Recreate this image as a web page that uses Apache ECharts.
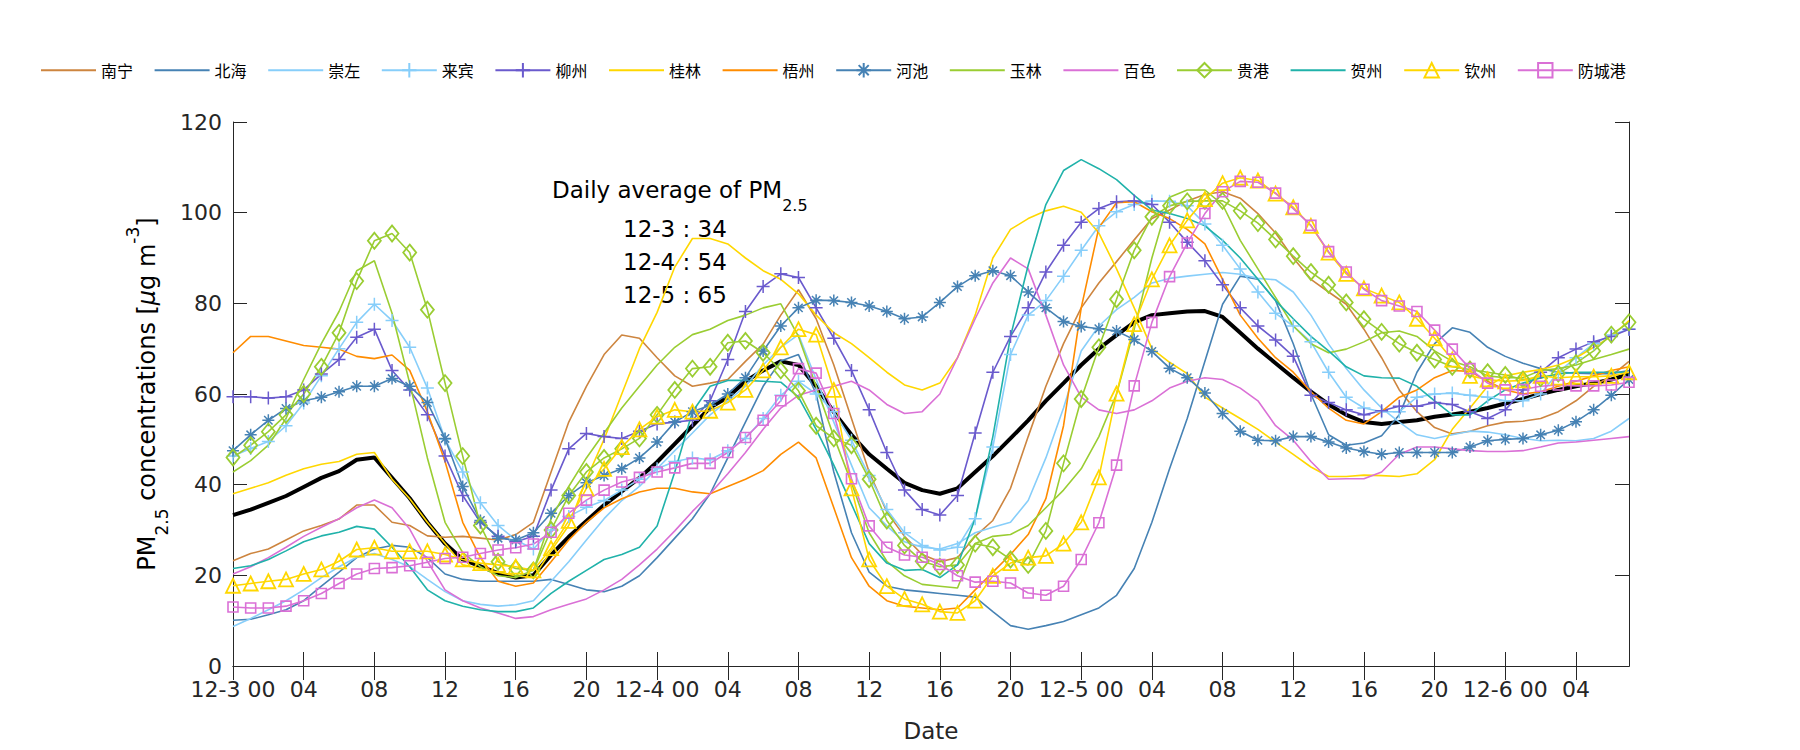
<!DOCTYPE html>
<html>
<head>
<meta charset="utf-8">
<script src="https://cdn.jsdelivr.net/npm/echarts@6/dist/echarts.min.js"></script>
<style>html,body{margin:0;padding:0;background:#fff}#c{width:1800px;height:750px}</style>
</head>
<body>
<div id="c"></div>
<script>
// ---- data: hourly PM2.5, 12-3 00:00 to 12-6 07:00 ----
const days = ['12-3', '12-4', '12-5', '12-6'];
const yTicks = [0, 20, 40, 60, 80, 100, 120];

const avg = [33.3,34.5,36,37.5,39.5,41.5,43,45.5,46,41.5,37,31.7,27,23.5,
  22,20.5,19.5,20,24.5,28.5,32,35.5,38.5,41.5,45,49,53,
  57,59.3,62.8,65.2,67.2,66.4,61.7,56,51,46.7,43.5,40.4,38.8,
  38,39.2,42.8,46.3,50.2,54.2,58.5,62.4,66.4,70,73,75.8,77.4,
  77.8,78.2,78.3,77,73.5,70,66.8,63.6,60.5,57.7,55.4,53.8,53.4,53.8,
  54.2,55,55.5,56.1,56.9,57.9,58.9,60,60.9,61.7,62.4,63.2,64.4];

const nanning = [23.2,24.8,25.8,27.8,29.8,31,32.4,35.5,35.5,31.7,31,28.7,28.4,28.6,
  28.2,27.8,29,31.7,42.8,53.8,61.7,68.7,73,72.3,68,64,61.7,
  62.4,63.2,67.2,71,77.4,83,76.6,66.4,54.6,42.8,34,28.6,24.6,
  23,23.9,28.6,32.1,39.2,50.6,61.7,71.1,79,84.5,89.2,94,98.7,
  100.6,102.6,104,104.6,103.2,99.8,95.5,90,85.3,82.5,79.8,74.3,68,60.9,
  56.1,52.6,51.2,51.8,53,53.8,54,54.6,56.1,58.5,61.7,64,67.2];

const beihai = [10.1,10.3,11.3,12.4,14.4,17.6,20.7,23.9,25.8,26.6,26.2,23.9,20.3,19.1,
  18.7,18.7,18.7,18.7,19.1,18,16.8,16.4,17.6,19.9,23.9,28.2,32.5,
  38,45.9,53.8,61.7,67.3,68.7,60,42.8,29.4,20.7,17.6,16.8,16.4,
  16,15.6,15.2,12,8.9,8.1,8.9,9.8,11.3,12.8,15.6,21.5,31.7,
  43.5,54.6,67.2,79.8,86,85.3,80.6,71.1,60,51,48.7,49.2,50.8,55.4,
  64.8,71.1,74.6,73.6,70.3,68.3,66.8,65.6,64.8,64.6,64.5,64.5,65.2];

const chongzuo = [8.7,10.5,12.4,14.4,16.8,19.5,21.9,24,24.8,23.5,21.9,19.1,16.4,14.4,
  13.6,13.2,13.5,14.4,18.7,23,27.8,32.5,36.5,39.6,43.5,47.5,51.4,
  55.4,58.5,61.7,66.4,70.3,73.1,63.2,53.8,44.3,34.9,30.9,27.4,26.2,
  25.8,27,29.4,30.6,31.7,36.5,45.9,56.9,69.5,75,78.6,81.3,84.5,
  85.5,86,86.4,86.8,86.4,85.5,85.2,82.5,77.4,71,65.6,60.9,56.9,53.8,
  51,50.2,51,51.8,51.6,51,50.2,49.7,49.8,49.7,50.2,51.8,54.6];

const laibin = [46.3,48,49.5,53,58,64,70,75.8,79.8,76.2,70.3,61.3,50,42.8,
  36,31,27.8,25.8,30,33,35,36.5,38.8,41.2,43.5,45.1,45.9,
  45.5,47.5,50.2,54.6,59.7,62.8,60,56.1,49.8,42,34.5,29.4,26.6,
  25.6,26.2,32.5,48.3,68.7,77.4,80.6,86,91.7,97.1,100.2,101.8,102.6,
  102.5,101.5,97.5,92.8,87.6,82.5,77.8,75,71.5,64.8,59.3,56.9,56.1,56.1,
  59.3,60,60.2,59.7,59.3,58.5,58.5,60,64.8,68,71.1,73,74.3];

const liuzhou = [59.4,59.4,59.1,59.4,60.9,64.4,67.6,72.5,74.3,65.2,60.9,55.4,46.3,37.6,
  31.7,28.6,27.4,28.6,38.8,47.9,51.3,50.6,50.2,51.8,53.4,53.8,54.2,
  58.5,67.6,78.2,83.7,86.5,85.7,79,72.3,65.2,56.5,47.1,38.8,34.5,
  33.3,37.6,51.4,64.8,72.7,79,86.9,92.8,97.9,100.9,102.4,102.6,101.8,
  97.9,93.5,89.4,84.1,79,75,71.9,68.3,59.7,58.1,56.5,55.4,56.3,57.3,
  57.3,58.1,57.7,56.1,54.6,56.5,60.9,64.8,68,69.9,71.5,72.7,74.3];

const guilin = [38,39.2,40.4,42.1,43.5,44.5,45.1,46.7,47.1,41.2,36.9,31.7,27,22.3,
  21.5,20.7,19.9,19.5,25.4,31,41.2,50,60,70,78,88,94.3,
  94.3,93.1,90,87.2,85.3,82.1,77.4,73.5,71.1,68,64.8,62,60.9,
  62.4,68,77.4,90,96.3,98.7,100.4,101.4,100.1,95.5,87.6,79,70,
  67,64.5,59.3,56.9,54.6,52.2,49.4,46.7,43.9,41.8,41.8,42.1,42,41.8,
  42.4,45.5,52.2,56.9,61.7,64,64.8,65.4,66.4,68,70.3,72.7,76.2];

const wuzhou = [69.1,72.7,72.7,71.7,70.7,70.3,69.9,68.3,67.8,68.6,65.2,56.1,45.1,31.7,
  23.9,18.7,17.6,18.3,23,27.8,31.7,34.9,36.9,38.4,39.2,39.2,38.4,
  38,39.6,41.2,43.1,46.7,49.4,45.9,34.9,23.9,17.6,14.4,13.2,12.8,
  12.4,12.8,16.8,20.7,24.6,29,36.9,53,79,96.7,102.2,102.4,100.2,
  98.7,96.3,93.1,85.3,77.4,72.3,68,64.8,60.5,56.9,54.2,53.4,56.1,59.3,
  60.9,63.6,65.2,65,62.8,60.9,60,60.5,61.7,62.8,64,65.2,66];

const hechi = [47.5,51,54.2,56.8,58.5,59.3,60.5,61.7,61.7,63.4,61.7,58.1,50.2,39.6,
  32.1,28.2,27.8,29.4,33.7,37.6,40.4,42,43.5,45.9,49.4,53.8,56.1,
  57.5,60,63.6,69.5,75,79,80.7,80.6,80.2,79.4,78.2,76.6,77,
  80.2,83.7,86.1,87.2,86.1,82.5,79,76,74.9,74.4,73.9,72,69.4,
  65.7,63.6,60.2,55.7,51.8,49.8,49.7,50.6,50.6,49.4,48.1,47.3,46.7,47.1,
  47.1,47.1,47.1,48.3,49.7,50,50.2,51,52,53.9,56.5,59.7,63.2];

const yulin = [42.8,45.3,48.7,54.6,63.2,71.1,78.2,87.2,89.4,77.8,62.4,45.9,31.7,25,
  21.9,19.9,19.5,21.1,32.5,39.6,45.9,51.4,56.9,61.7,66.4,70.3,73.1,
  74.3,76.2,77.4,79,79.9,72.7,61.7,50.6,40.4,29.4,23.1,19.9,18,
  17.6,17.2,27,28.6,29,31,34.9,38.8,43.5,50.6,60,74.3,90,
  103.4,105,105,101.8,93.9,87.6,81.3,75,71.1,69.1,69.9,71.5,73.5,73.9,
  72.7,69.5,67.2,66,64,63.6,63.6,65.2,65.6,66.4,67.6,68.7,69.9];

const baise = [20.3,21.9,23.9,26.2,28.6,30.6,32.5,34.9,36.6,34.9,30.2,23.1,16.8,14.4,
  12.8,11.7,10.5,10.9,12.4,13.6,14.8,16.8,19.1,22.3,25.8,29.8,34.1,
  38,42.4,47.1,52.2,56.9,59.7,60.9,61.7,62.8,60.9,57.7,55.7,56.1,
  60,68,76.6,84.5,90,87.6,77.4,66.4,59.3,56.5,55.7,56.5,58.5,
  61.3,62.8,63.6,63.2,61.3,58.5,53,49.8,45.1,41.2,41.3,41.3,42.8,46.7,
  48.3,48.3,47.9,47.5,47.3,47.3,47.5,48.3,49.2,49.4,49.8,50.2,50.6];

const guigang = [46,48.7,51.7,55.4,60,66,73.5,84.9,93.8,95.4,91.2,78.6,62.4,46.3,
  31,23,21.5,21.1,30,37.6,42.8,45.9,47.9,50.2,55.4,60.9,65.6,
  66,71.3,71.7,69.1,65.2,60.7,53,50.2,48.7,41.2,32.1,26.6,23.1,
  21.9,22.3,27,26.2,23.5,22.3,29.8,44.7,58.9,70.3,80.9,91.7,99.1,
  101.5,102.5,102.6,102.6,100.4,97.7,94.1,90.4,86.9,84.1,80.2,76.5,73.7,71.1,
  69.1,67.6,66,65.4,64.8,64.2,63.2,63.5,64.5,66.8,69.5,73.1,75.8];

const hezhou = [21.5,22.1,23.5,25.4,27.4,28.7,29.5,30.8,30.2,26.2,21.9,16.8,14.4,13.2,
  12.4,12,12,12.8,16,18.7,21.1,23.5,24.6,26.2,30.9,42.8,56.1,
  61.7,63,63,62.8,62.6,59.3,52.2,44.3,35.7,27,22.7,21.1,21.3,
  19.5,22.3,32.5,50.6,72.7,88.4,101.8,109.3,111.7,109.7,107.3,103.8,100.6,
  99.8,98.7,97.1,93.9,90,85.3,80.6,76.6,72.7,69.5,66,64,63.6,63.5,
  61.7,58.5,55.4,55.4,58.5,60.9,62.4,63.6,64.4,64.8,64.8,64.8,64.8];

const qinzhou = [17.7,18.2,18.7,19.1,20.3,21.3,23.1,25.7,26.1,25.3,25.3,25.3,24.6,23.5,
  22.7,22.3,21.9,21.1,26,32,39.2,43.5,48.3,52.2,55,56.5,56.1,
  56.3,58.1,60.9,65.2,70.3,74.3,73.1,60.9,39.2,23.5,17.6,14.8,13.6,
  12,11.7,14.4,19.9,22.7,23.9,24.3,27,31.7,41.6,60.1,75.4,85.3,
  92.8,98.3,103,106.5,107.7,107.1,104.2,101.2,97.1,91.2,86.5,83.3,81.7,80.2,
  76.6,72.3,67.6,64,63.2,62.8,63,64,63.6,63.8,63.8,64,64.8];

const fangchenggang = [13,12.8,12.8,13.2,14.4,16,18.2,20.3,21.5,21.7,22.1,22.9,23.7,24,
  24.8,25.6,26.1,26.9,29.5,33.7,36.6,38.8,40.6,41.6,42.8,43.7,44.7,
  44.7,47.1,50.4,54.2,58.5,65.6,64.6,55.7,41.3,30.9,26.2,24.5,24,
  22.4,19.9,18.5,18.7,18.3,16.1,15.6,17.6,23.5,31.6,44.3,61.8,75.8,
  85.9,93.3,99.8,104.6,106.9,106.7,104.3,100.9,97.2,91.4,86.9,83.1,80.6,79.4,
  78.2,74.1,69.9,65.6,62.4,60.9,61,61.7,62,61.8,61.8,62,62.6];

const dailyAvg = [['12-3', 34], ['12-4', 54], ['12-5', 65]];

// ---- hour categories ----
const cats = [];
for (let i = 0; i < avg.length; i++) {
  const d = days[Math.floor(i / 24)];
  const h = i % 24;
  cats.push(d + ' ' + (h < 10 ? '0' + h : '' + h));
}
function labelFmt(v) {
  const parts = v.split(' ');
  return parts[1] === '00' ? v : parts[1];
}

const FONT = 'DejaVu Sans';
const AX = '#262626';
const CLEAR = 'rgba(255,255,255,0)';

const plus = 'path://M5,0L5,10M0,5L10,5';
const star = 'path://M5,0L5,10M0,5L10,5M1.5,1.5L8.5,8.5M1.5,8.5L8.5,1.5';

const defs = [
  ['南宁', nanning, '#CD853F', null],
  ['北海', beihai, '#4682B4', null],
  ['崇左', chongzuo, '#87CEFA', null],
  ['来宾', laibin, '#87CEFA', {symbol: plus, size: 13, bw: 1.5}],
  ['柳州', liuzhou, '#6A5ACD', {symbol: plus, size: 13, bw: 1.5}],
  ['桂林', guilin, '#FFD700', null],
  ['梧州', wuzhou, '#FF8C00', null],
  ['河池', hechi, '#4682B4', {symbol: star, size: 12, bw: 1.5}],
  ['玉林', yulin, '#9ACD32', null],
  ['百色', baise, '#DA70D6', null],
  ['贵港', guigang, '#9ACD32', {symbol: 'diamond', size: [13, 16], bw: 1.8}],
  ['贺州', hezhou, '#20B2AA', null],
  ['钦州', qinzhou, '#FFD700', {symbol: 'triangle', size: 14, bw: 1.8}],
  ['防城港', fangchenggang, '#DA70D6', {symbol: 'rect', size: 10, bw: 1.6}]
];

const series = [{
  name: '平均', type: 'line', data: avg, symbol: 'none',
  lineStyle: {color: '#000', width: 4}, itemStyle: {color: '#000'}, z: 1
}];
defs.forEach(function (d) {
  const s = {
    name: d[0], type: 'line', data: d[1], z: 2,
    lineStyle: {color: d[2], width: 1.6}
  };
  if (d[3]) {
    s.symbol = d[3].symbol;
    s.symbolSize = d[3].size;
    s.showSymbol = true;
    s.showAllSymbol = true;
    s.itemStyle = {color: CLEAR, borderColor: d[2], borderWidth: d[3].bw};
  } else {
    s.symbol = 'none';
    s.itemStyle = {color: CLEAR, borderWidth: 0, opacity: 0};
  }
  series.push(s);
});

const rich = {
  a: {fontSize: 24, lineHeight: 46, fontFamily: FONT, color: AX},
  i: {fontSize: 24, lineHeight: 46, fontFamily: FONT, fontStyle: 'italic', color: AX},
  s: {fontSize: 17, lineHeight: 18, verticalAlign: 'bottom', fontFamily: FONT, color: AX},
  p: {fontSize: 17, lineHeight: 18, verticalAlign: 'top', fontFamily: FONT, color: AX}
};
const richA = {
  a: {fontSize: 23, lineHeight: 46, fontFamily: FONT, color: '#000'},
  s: {fontSize: 16, lineHeight: 18, verticalAlign: 'bottom', fontFamily: FONT, color: '#000'}
};

const graphics = [
  {type: 'text', x: 147, y: 394, rotation: Math.PI / 2, silent: true,
    style: {text: '{a|PM}{s|2.5}{a| concentrations [}{i|μ}{a|g m}{p|-3}{a|]}', rich: rich,
      align: 'center', verticalAlign: 'middle'}},
  {type: 'text', x: 552, y: 190, silent: true,
    style: {text: '{a|Daily average of PM}{s|2.5}', rich: richA, align: 'left', verticalAlign: 'middle'}}
];
dailyAvg.forEach(function (r, k) {
  graphics.push({type: 'text', x: 623, y: 229 + k * 33, silent: true,
    style: {text: r[0] + ' : ' + r[1], fontSize: 23, fontFamily: FONT, fill: '#000',
      align: 'left', verticalAlign: 'middle'}});
});

const chart = echarts.init(document.getElementById('c'), null, {renderer: 'svg'});
chart.setOption({
  animation: false,
  backgroundColor: '#fff',
  grid: {left: 233, right: 171, top: 122, bottom: 84, containLabel: false},
  legend: {
    data: defs.map(function (d) {
      return d[3] ? {name: d[0]} : {name: d[0], itemStyle: {opacity: 0}};
    }),
    left: 35, top: 57, itemWidth: 55, itemHeight: 18, itemGap: 20.6,
    textStyle: {fontSize: 16, fontFamily: 'Noto Sans CJK SC', color: '#000'}
  },
  xAxis: [{
    type: 'category', data: cats, boundaryGap: false,
    name: 'Date', nameLocation: 'middle', nameGap: 53,
    nameTextStyle: {fontSize: 23, fontFamily: FONT, color: AX},
    axisLine: {show: true, lineStyle: {color: AX, width: 1}},
    axisTick: {show: true, inside: true, length: 14, interval: 3, lineStyle: {color: AX}},
    axisLabel: {interval: 3, margin: 12, fontSize: 22, fontFamily: FONT, color: AX, formatter: labelFmt},
    splitLine: {show: false}
  }, {
    type: 'category', data: cats, boundaryGap: false, position: 'top',
    axisLine: {show: true, lineStyle: {color: AX, width: 1}},
    axisTick: {show: true, inside: true, length: 14, interval: 3, lineStyle: {color: AX}},
    axisLabel: {show: false}, splitLine: {show: false}
  }],
  yAxis: [{
    type: 'value', min: yTicks[0], max: yTicks[yTicks.length - 1], interval: 20,
    axisLine: {show: true, lineStyle: {color: AX, width: 1}},
    axisTick: {show: true, inside: true, length: 14, lineStyle: {color: AX}},
    axisLabel: {margin: 11, fontSize: 22, fontFamily: FONT, color: AX},
    splitLine: {show: false}
  }, {
    type: 'value', min: yTicks[0], max: yTicks[yTicks.length - 1], interval: 20, position: 'right',
    axisLine: {show: true, lineStyle: {color: AX, width: 1}},
    axisTick: {show: true, inside: true, length: 14, lineStyle: {color: AX}},
    axisLabel: {show: false}, splitLine: {show: false}
  }],
  graphic: graphics,
  series: series
});
</script>
</body>
</html>
